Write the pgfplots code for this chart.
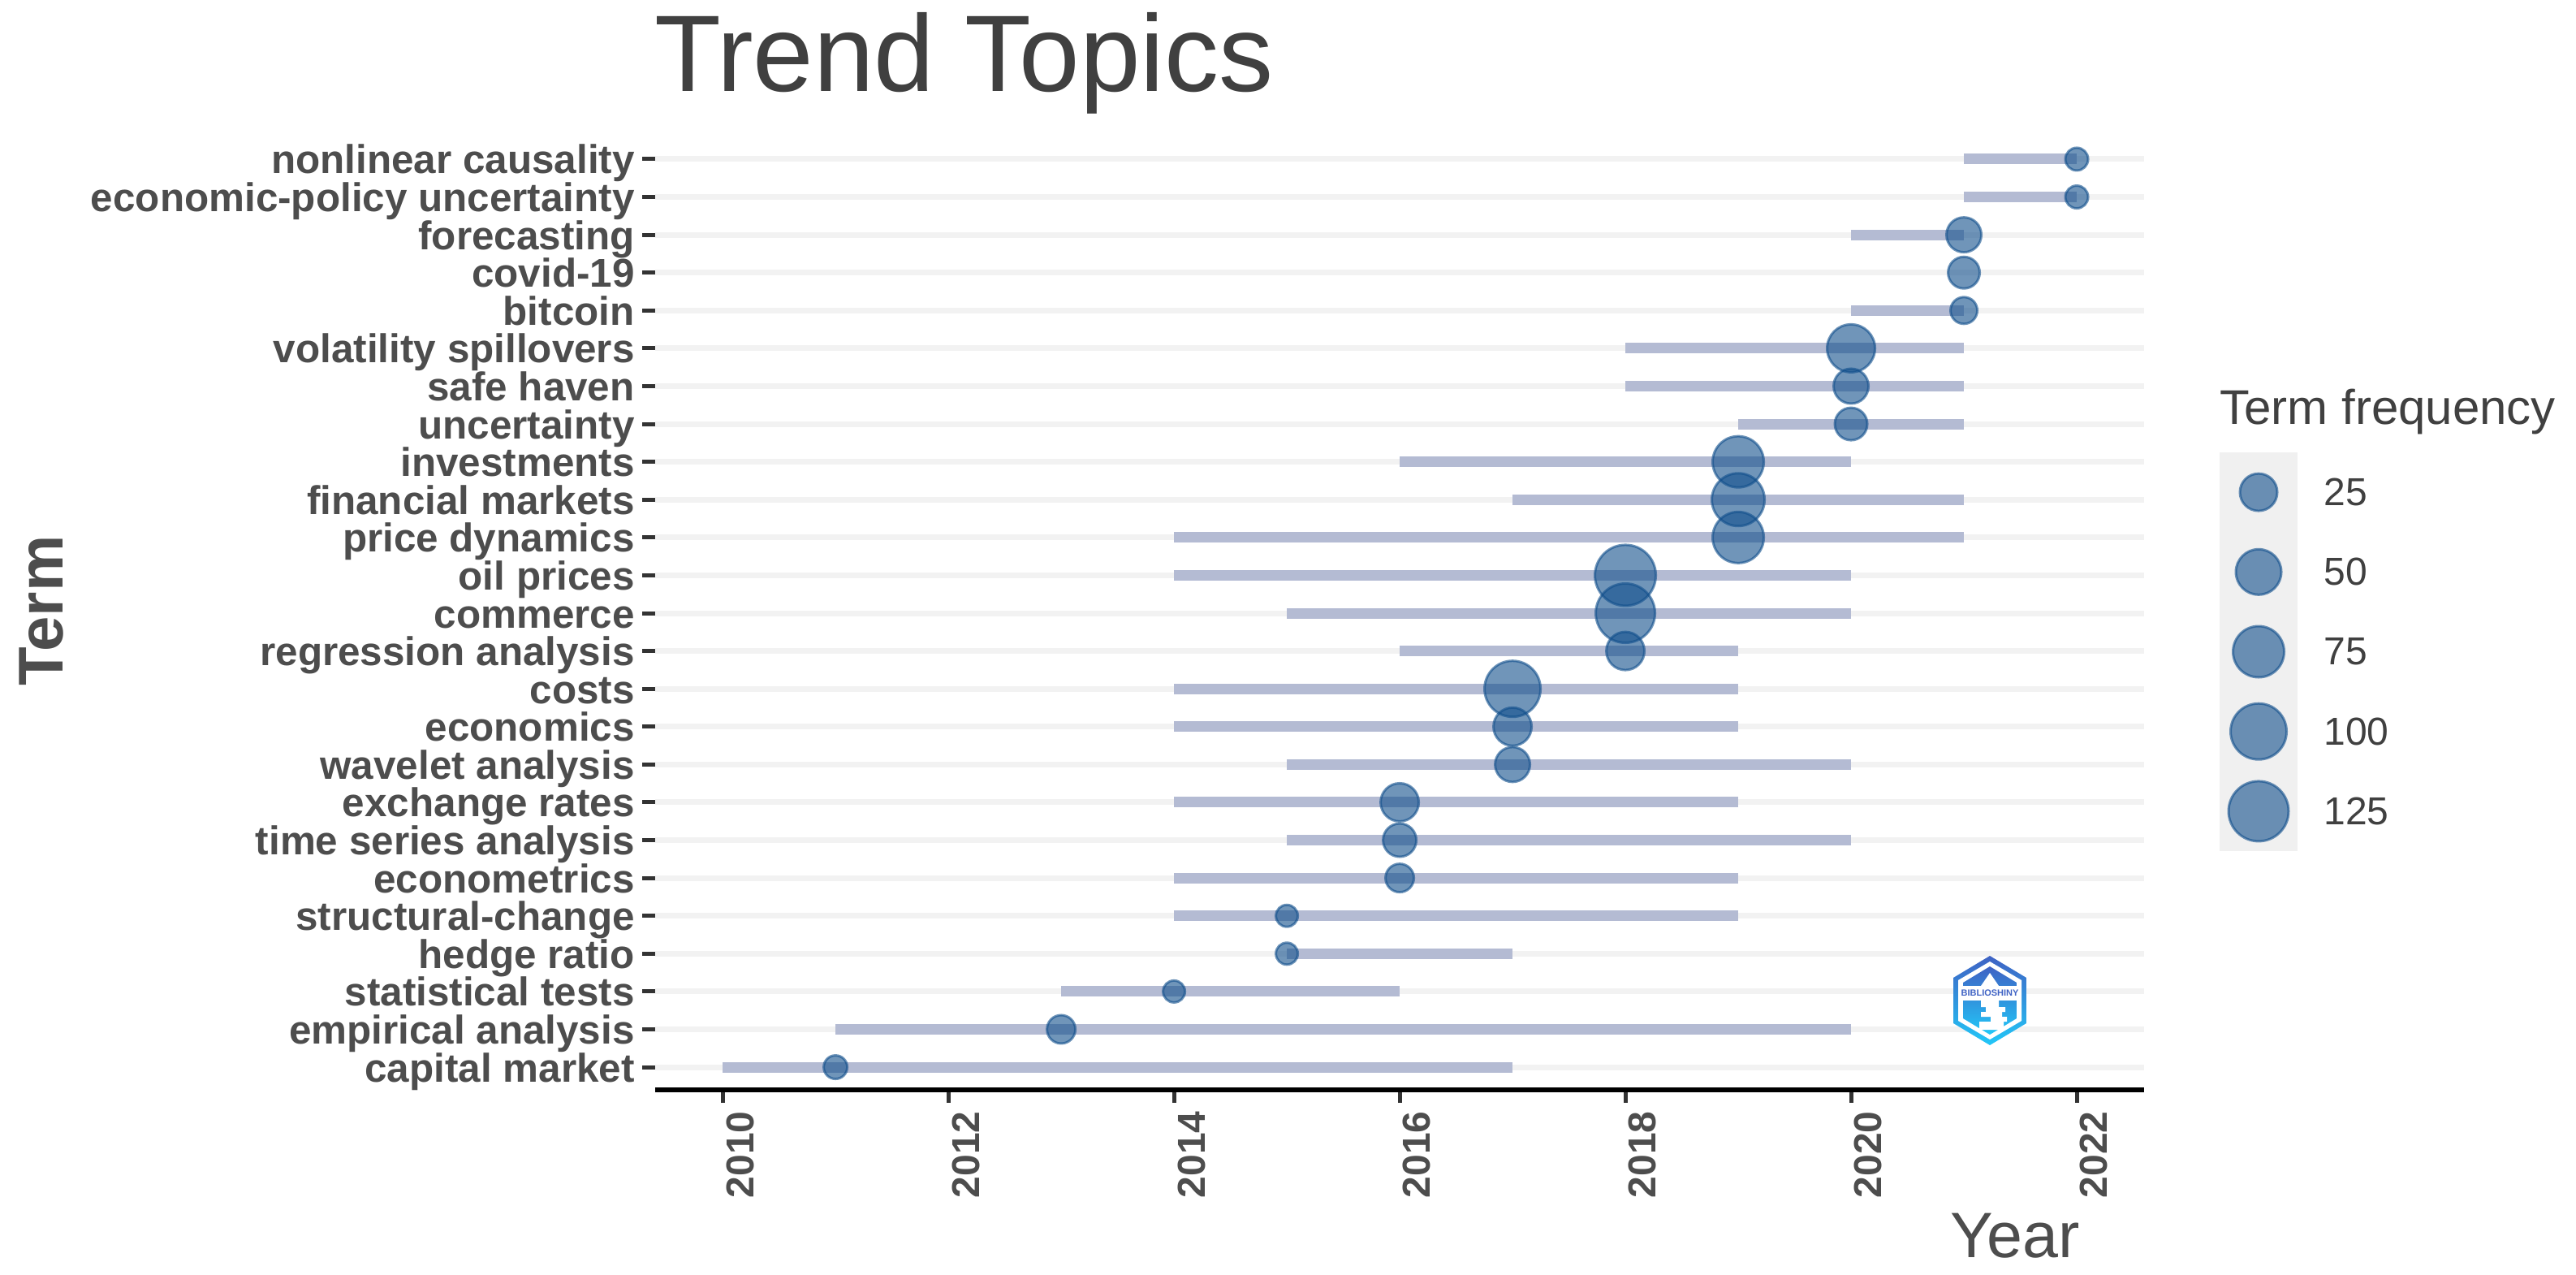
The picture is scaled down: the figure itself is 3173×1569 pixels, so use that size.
\documentclass[border=0pt]{standalone}
\usepackage{pgfplots}
\pgfplotsset{compat=1.18}
\usepackage{pgfplotstable}
\usepackage{fontspec}
\setmainfont{Liberation Sans}
\definecolor{bub}{HTML}{104E8B}
\definecolor{seg}{HTML}{B4BBD3}
\definecolor{gridc}{HTML}{F2F2F2}
\definecolor{txt}{HTML}{4D4D4D}
\definecolor{ttl}{HTML}{404040}
\definecolor{legbg}{HTML}{F0F0F0}
\definecolor{logoa}{HTML}{3F62C4}
\definecolor{logob}{HTML}{22C8F8}
% term position, year of median frequency, bubble diameter (image px)
\pgfplotstableread{
y  x    d
25 2022 31
24 2022 31
23 2021 46
22 2021 42
21 2021 36
20 2020 62
19 2020 46
18 2020 43
17 2019 66
16 2019 68
15 2019 66
14 2018 78
13 2018 76
12 2018 50
11 2017 72
10 2017 50
9  2017 46
8  2016 50
7  2016 44
6  2016 38
5  2015 30
4  2015 30
3  2014 30
2  2013 38
1  2011 32
}\bubbles
% first and third quartile years of each term
\pgfplotstableread{
x y
2021 25
2022 25
nan nan
2021 24
2022 24
nan nan
2020 23
2021 23
nan nan
2020 21
2021 21
nan nan
2018 20
2021 20
nan nan
2018 19
2021 19
nan nan
2019 18
2021 18
nan nan
2016 17
2020 17
nan nan
2017 16
2021 16
nan nan
2014 15
2021 15
nan nan
2014 14
2020 14
nan nan
2015 13
2020 13
nan nan
2016 12
2019 12
nan nan
2014 11
2019 11
nan nan
2014 10
2019 10
nan nan
2015 9
2020 9
nan nan
2014 8
2019 8
nan nan
2015 7
2020 7
nan nan
2014 6
2019 6
nan nan
2014 5
2019 5
nan nan
2015 4
2017 4
nan nan
2013 3
2016 3
nan nan
2011 2
2020 2
nan nan
2010 1
2017 1
}\segments
\pgfplotstableread{
x y d
0.5 5 49
0.5 4 59
0.5 3 66
0.5 2 72
0.5 1 77
}\legdata
\pgfplotsset{bubble/.style={
  scatter, only marks, mark=*, point meta=y,
  line width=1.5pt,
  scatter/use mapped color={draw=bub, fill=bub, draw opacity=0.6, fill opacity=0.6},
  visualization depends on={\thisrow{d}/4-0.75 \as \ms},
  scatter/@pre marker code/.append style={/tikz/mark size=\ms},
}}
\begin{document}
\begin{tikzpicture}[x=0.5pt,y=-0.5pt]
\path[use as bounding box] (0,0) rectangle (3173,1569);
\begin{axis}[
  at={(403.5pt,-671pt)}, anchor=south west,
  scale only axis, width=917pt, height=587pt,
  xmin=2009.402, xmax=2022.597, ymin=0.4, ymax=25.6,
  axis x line*=bottom, axis y line*=left,
  x axis line style={-, black, line width=3pt},
  y axis line style={draw=none},
  xtick={2010,2012,2014,2016,2018,2020,2022},
  xticklabels={2010,2012,2014,2016,2018,2020,2022},
  ytick={1,...,25},
  yticklabels={capital market,empirical analysis,statistical tests,hedge ratio,structural-change,econometrics,time series analysis,exchange rates,wavelet analysis,economics,costs,regression analysis,commerce,oil prices,price dynamics,financial markets,investments,uncertainty,safe haven,volatility spillovers,bitcoin,covid-19,forecasting,economic-policy uncertainty,nonlinear causality},
  tick align=outside,
  major tick length=8pt,
  tick style={color=black!80, line width=2.5pt},
  ticklabel style={font=\fontsize{24.7}{24.7}\selectfont\bfseries, text=txt},
  xticklabel style={font=\fontsize{24}{24}\selectfont\bfseries, rotate=90, anchor=north east, inner sep=0pt, yshift=-2pt, xshift=-5pt},
  yticklabel style={inner sep=0pt, anchor=base east, xshift=-4.5pt, yshift=-9pt},
  ymajorgrids, xmajorgrids=false,
  major grid style={gridc, line width=3.5pt},
  clip=false,
]
\addplot[seg, line width=6.5pt, line cap=butt, unbounded coords=jump, no marks] table[x=x,y=y] {\segments};
\addplot[bubble] table[x=x,y=y] {\bubbles};
\end{axis}
\node[anchor=base west, inner sep=0pt, text=ttl, font=\fontsize{67}{67}\selectfont] at (806,112) {Trend Topics};
\node[anchor=base, rotate=90, inner sep=0pt, text=txt, font=\fontsize{39}{39}\selectfont\bfseries] at (77,752) {Term};
\node[anchor=base west, inner sep=0pt, text=txt, font=\fontsize{39.5}{39.5}\selectfont] at (2402,1548) {Year};
\node[anchor=base west, inner sep=0pt, text=ttl, font=\fontsize{30}{30}\selectfont] at (2734,522) {Term frequency};
\begin{axis}[
  at={(1367pt,-524pt)}, anchor=south west,
  scale only axis, width=48pt, height=245.5pt,
  xmin=0, xmax=1, ymin=0.5, ymax=5.5,
  axis background/.style={fill=legbg},
  axis line style={draw=none},
  xtick=\empty,
  ytick={1,2,3,4,5},
  yticklabels={125,100,75,50,25},
  yticklabel pos=right,
  major tick length=0pt,
  tick style={draw=none},
  yticklabel style={font=\fontsize{24}{24}\selectfont, text=ttl, inner sep=0pt, xshift=16pt},
  clip=false,
]
\addplot[bubble] table[x=x,y=y] {\legdata};
\end{axis}
% biblioshiny logo
\shade[top color=logoa, bottom color=logob] (2451,1177)--(2496,1204)--(2496,1260)--(2451,1287)--(2406,1260)--(2406,1204)--cycle;
\fill[white] (2451,1184)--(2490,1207)--(2490,1257)--(2451,1280)--(2412,1257)--(2412,1207)--cycle;
\shade[top color=logoa, bottom color=logob] (2451,1190)--(2484,1210)--(2484,1254)--(2451,1274)--(2418,1254)--(2418,1210)--cycle;
\fill[white] (2412,1214) rectangle (2490,1232);
\node[inner sep=0pt, text=logoa, font=\fontsize{5.5}{5.5}\selectfont\bfseries] at (2451,1223) {BIBLIOSHINY};
\fill[white] (2451,1198)--(2462,1214)--(2440,1214)--cycle;
\fill[white] (2440,1232) rectangle (2462,1240) (2446,1240) rectangle (2470,1246) (2440,1246) rectangle (2466,1252) (2452,1252) rectangle (2472,1258) (2438,1258) rectangle (2468,1268);
\end{tikzpicture}
\end{document}
